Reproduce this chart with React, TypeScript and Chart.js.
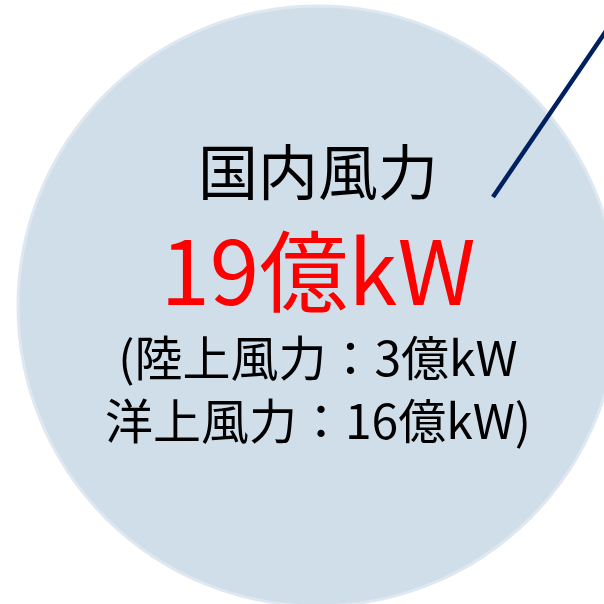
import React, { useEffect, useRef } from "react";
import { Chart, registerables } from "chart.js";

Chart.register(...registerables);

// Scene data (coordinates in a 0..604 frame, y downward)
const circleCenter = [{ x: 318, y: 306 }];
const circleRadius = [300];
const leaderLine = [
  { x: 606, y: 31 },
  { x: 493, y: 197 },
];
const textLines = ["国内風力", "19億kW", "(陸上風力：3億kW", "洋上風力：16億kW)"];

const FONT = '"Noto Sans CJK JP", "Noto Sans", sans-serif';

const textPlugin = {
  id: "centerText",
  afterDatasetsDraw(chart: any) {
    const { ctx } = chart;
    const xs = chart.scales.x;
    const ys = chart.scales.y;
    const cx = xs.getPixelForValue(318);
    const styles = [
      { size: 60, color: "#000000", y: 172 },
      { size: 89, color: "#ff0000", y: 271 },
      { size: 48, color: "#000000", y: 358 },
      { size: 48, color: "#000000", y: 421 },
    ];
    ctx.save();
    ctx.textAlign = "center";
    ctx.textBaseline = "middle";
    textLines.forEach((t, i) => {
      const s = styles[i];
      ctx.font = `${s.size}px ${FONT}`;
      ctx.fillStyle = s.color;
      ctx.fillText(t, cx, ys.getPixelForValue(s.y));
    });
    ctx.restore();
  },
};

export default function App() {
  const ref = useRef<HTMLCanvasElement | null>(null);
  useEffect(() => {
    document.body.style.margin = "0";
    const canvas = ref.current!;
    const chart = new Chart(canvas, {
      type: "scatter",
      data: {
        datasets: [
          {
            data: circleCenter,
            pointRadius: circleRadius[0],
            pointHoverRadius: circleRadius[0],
            backgroundColor: "rgb(208,222,234)",
            borderColor: "rgb(223,232,241)",
            borderWidth: 3,
            showLine: false,
            clip: false,
            order: 2,
          } as any,
          {
            data: leaderLine,
            borderColor: "#002060",
            borderWidth: 4.5,
            pointRadius: 0,
            pointHoverRadius: 0,
            showLine: true,
            fill: false,
            clip: false,
            order: 1,
          } as any,
        ],
      },
      options: {
        animation: false,
        responsive: false,
        maintainAspectRatio: false,
        events: [],
        layout: { padding: 0, autoPadding: false },
        plugins: {
          legend: { display: false },
          tooltip: { enabled: false },
          title: { display: false },
        },
        scales: {
          x: { type: "linear", min: 0, max: 604, display: false },
          y: { type: "linear", min: 0, max: 604, reverse: true, display: false },
        },
      } as any,
      plugins: [textPlugin],
    });
    return () => chart.destroy();
  }, []);
  return (
    <div style={{ position: "fixed", left: 0, top: 0, width: 604, height: 604, background: "#fff" }}>
      <canvas ref={ref} width={604} height={604} style={{ width: 604, height: 604, display: "block" }} />
    </div>
  );
}
